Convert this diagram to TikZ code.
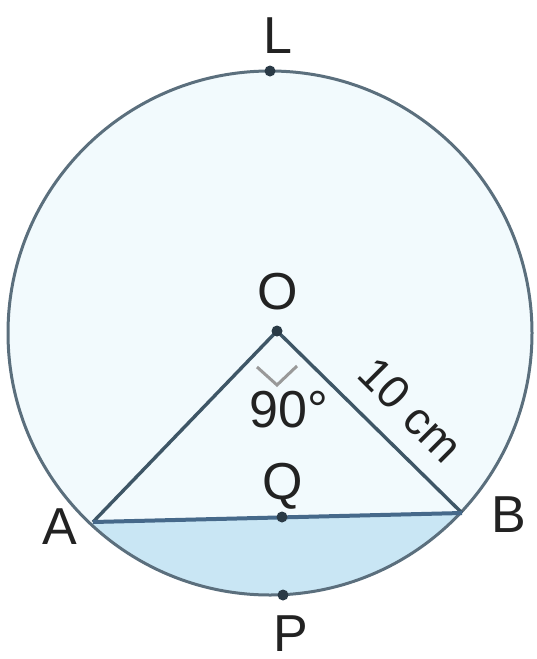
\documentclass[tikz,border=0pt]{standalone}
\usepackage{fontspec}
\setmainfont{Liberation Sans}
\usetikzlibrary{calc}
\definecolor{circfill}{HTML}{F2FAFD}
\definecolor{segfill}{HTML}{C9E6F4}
\definecolor{edge}{HTML}{3E5666}
\definecolor{chordc}{HTML}{46698A}
\definecolor{dotc}{HTML}{2A3A46}
\definecolor{txt}{HTML}{222222}
\begin{document}
\begin{tikzpicture}[x=1pt,y=-1pt,
  lbl/.style={text=txt,font=\fontsize{52}{52}\selectfont,inner sep=0pt},
  seg/.style={draw=edge,line width=3.4pt},
  pt/.style={fill=dotc}]
\useasboundingbox (0,0) rectangle (536,659);
\coordinate (C) at (270,333);
\coordinate (O) at (277,331);
\coordinate (A) at (93,522);
\coordinate (B) at (462,513);
\coordinate (Q) at (282,517);
\coordinate (P) at (283,595);
\coordinate (L) at (270,71);
% circle fill
\fill[circfill] (C) circle[radius=262];
% segment fill
\begin{scope}
  \clip (C) circle[radius=262];
  \fill[segfill] (A) -- (B) -- (540,700) -- (0,700) -- cycle;
\end{scope}
\draw[draw=edge!85,line width=3pt] (C) circle[radius=262];
% triangle
\draw[seg] (A) -- (O) -- (B);
\draw[draw=chordc,line width=4pt] (A) -- (B);
% right angle mark
\draw[gray!80,line width=3pt] ($(O)+(-20,36)$) -- ($(O)+(0,54)$) -- ($(O)+(20,35)$);
% dots
\foreach \p in {O,Q,P,L} \fill[pt] (\p) circle[radius=5.5];
% labels
\node[lbl] (tL) at (278,36) {L};
\node[lbl] (tO) at (278,292) {O};
\node[lbl] (t90) at (289,410) {90°};
\node[lbl] (tQ) at (283,486) {Q};
\node[lbl] (tA) at (60,527) {A};
\node[lbl] (tB) at (509,515) {B};
\node[lbl] (tP) at (291,634) {P};
\node[lbl,font=\fontsize{46}{46}\selectfont,rotate=-45] (t10) at (411,410) {10 cm};
\end{tikzpicture}
\end{document}
